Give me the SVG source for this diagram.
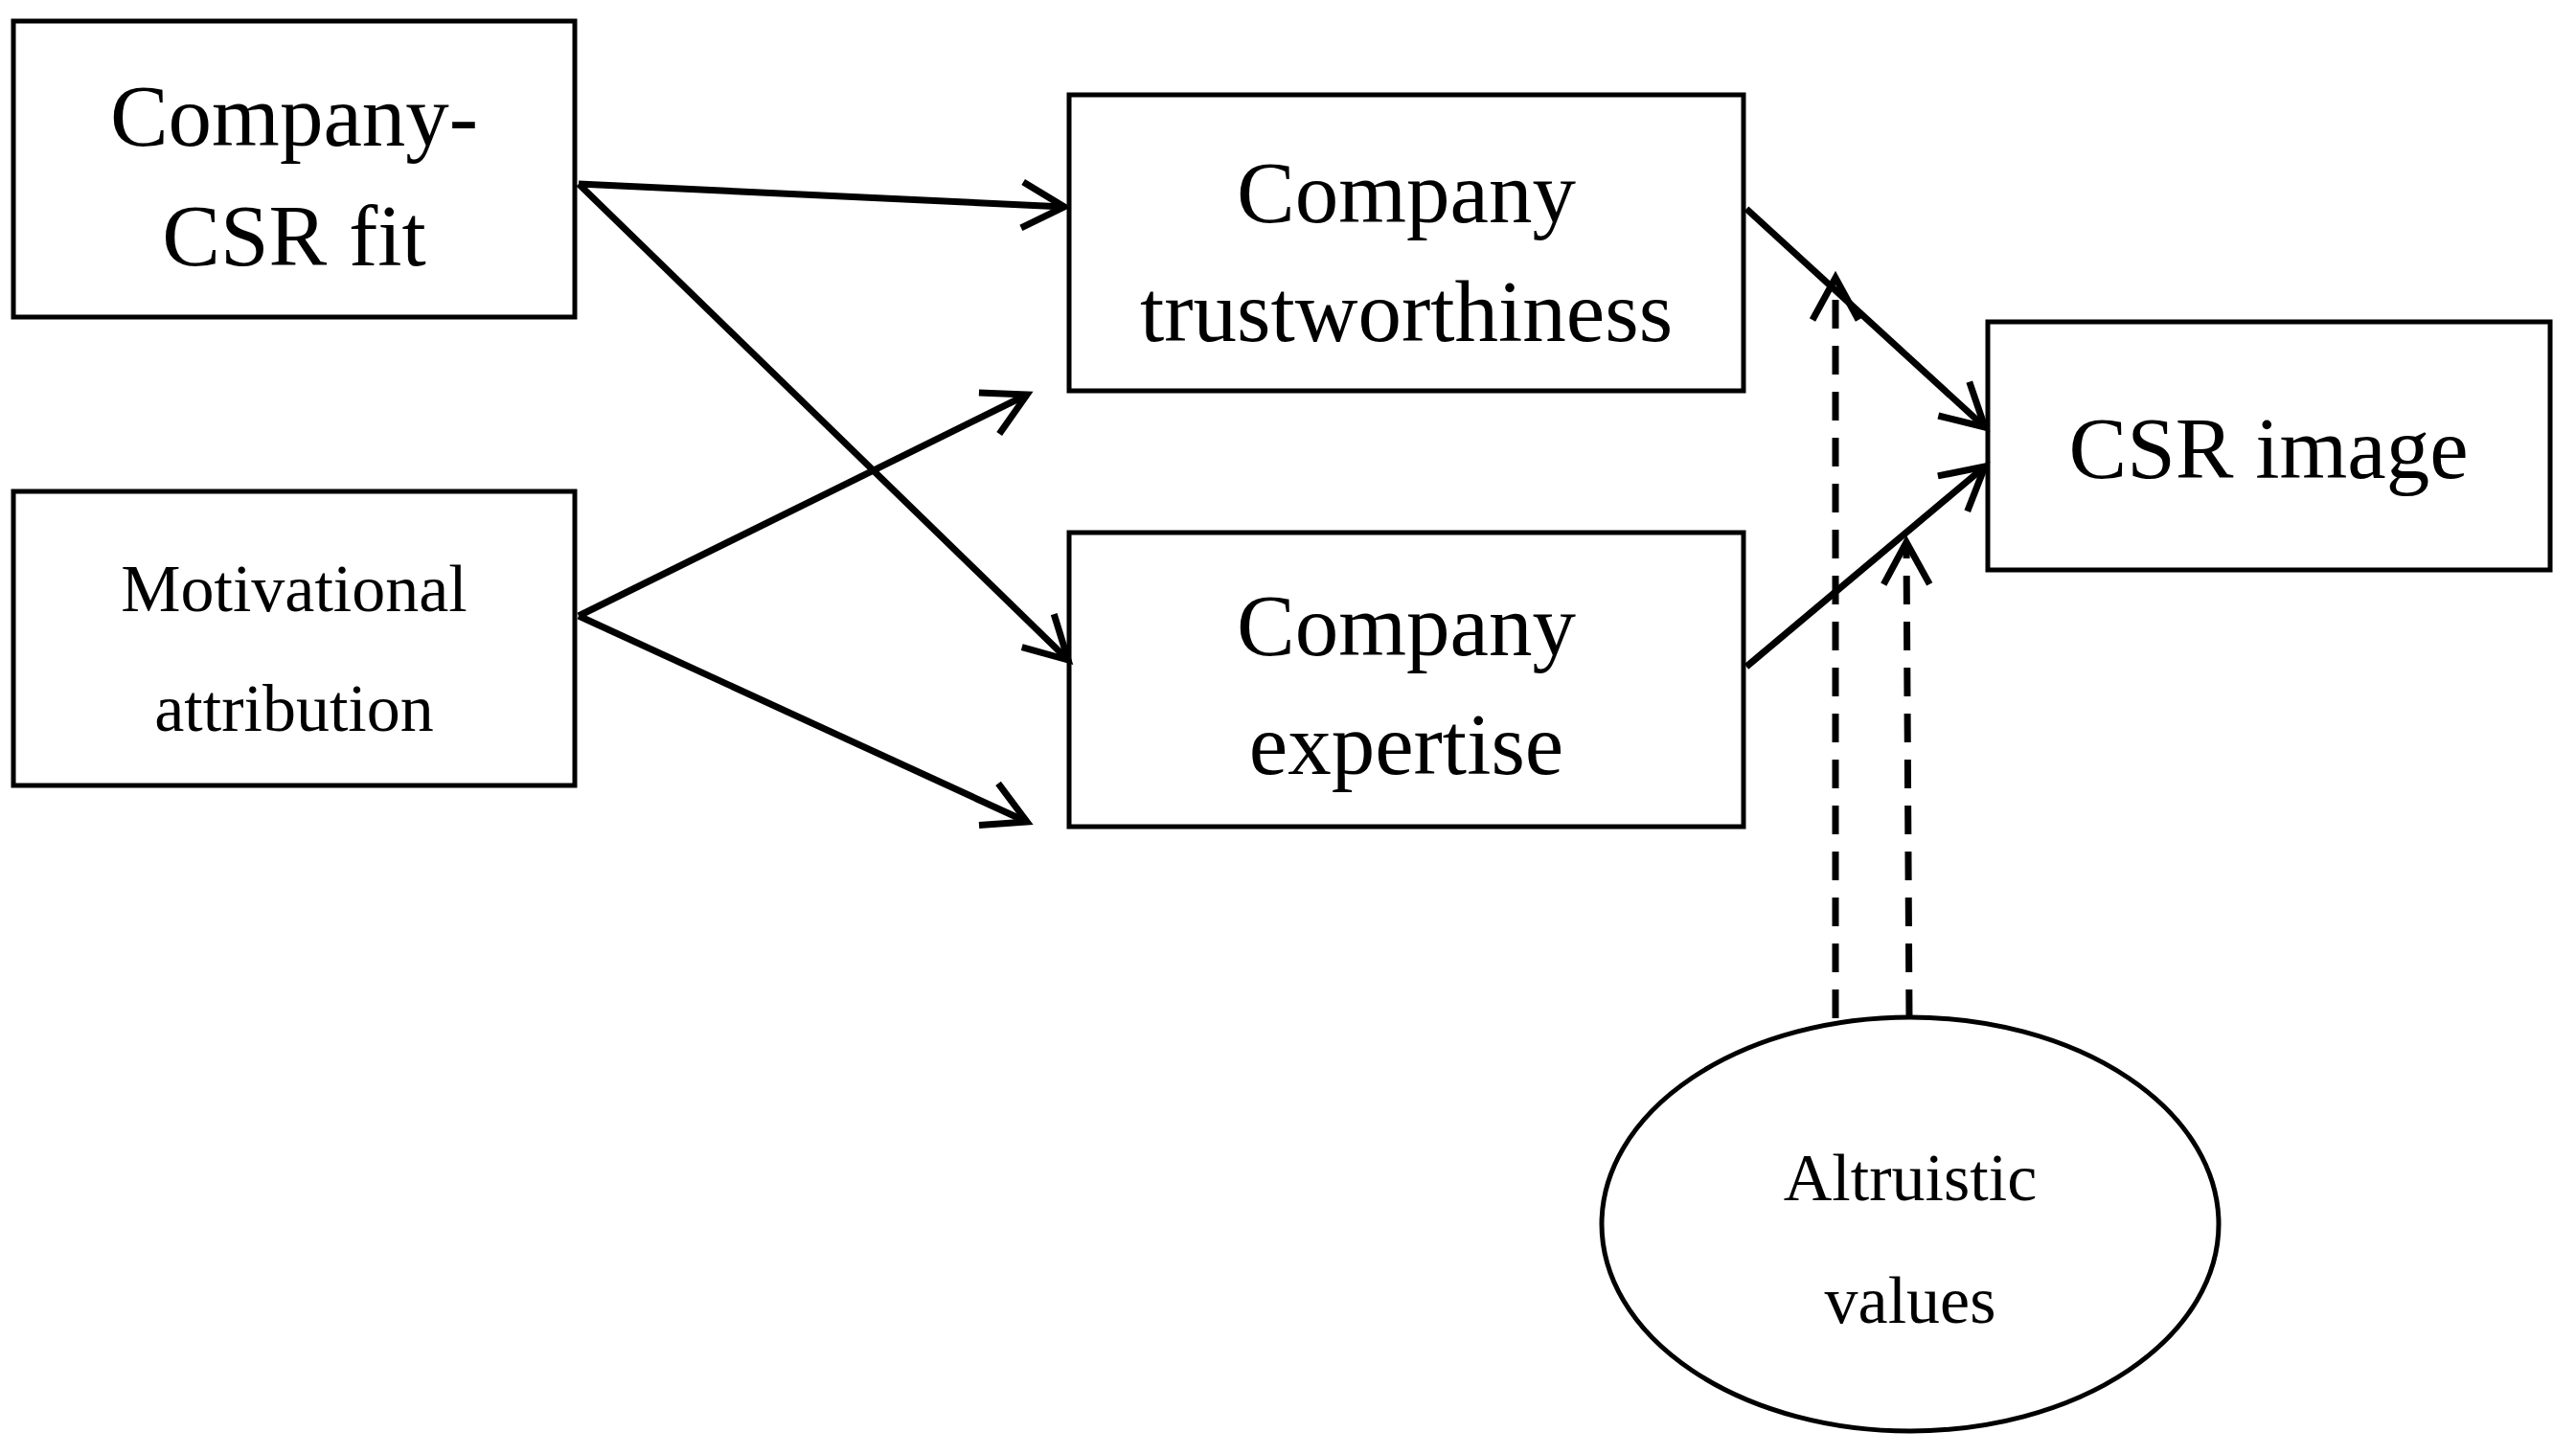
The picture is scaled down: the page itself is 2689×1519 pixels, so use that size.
<svg xmlns="http://www.w3.org/2000/svg" width="2689" height="1519" viewBox="0 0 2689 1519">
<style>
.n{fill:#fff;stroke:#000;stroke-width:5}
.t{font-family:"Liberation Serif",serif;text-anchor:middle;fill:#000}
.c{stroke:#000;stroke-width:7;fill:none}
.d{stroke-dasharray:30,18}
</style>
<defs>
<marker id="a" markerUnits="userSpaceOnUse" viewBox="-50 -30 60 60" markerWidth="60" markerHeight="60" refX="0" refY="0" orient="auto">
<path d="M-44,-24 L0,0 L-44,24" fill="none" stroke="#000" stroke-width="7"/>
</marker>
</defs>
<rect width="2689" height="1519" fill="#fff"/>
<g id="fit"><rect class="n" x="14" y="22" width="586" height="309"/><text class="t" font-size="91" x="307" y="152">Company-</text><text class="t" font-size="91" x="307" y="277">CSR fit</text></g>
<g id="motiv"><rect class="n" x="14" y="513" width="586" height="307"/><text class="t" font-size="70" x="307" y="638">Motivational</text><text class="t" font-size="70" x="307" y="763">attribution</text></g>
<g id="trust"><rect class="n" x="1116" y="99" width="704" height="309"/><text class="t" font-size="91" x="1468" y="232">Company</text><text class="t" font-size="91" x="1468" y="356">trustworthiness</text></g>
<g id="expert"><rect class="n" x="1116" y="556" width="704" height="307"/><text class="t" font-size="91" x="1468" y="684">Company</text><text class="t" font-size="91" x="1468" y="808">expertise</text></g>
<g id="image"><rect class="n" x="2075" y="336" width="587" height="259"/><text class="t" font-size="91" x="2368" y="499">CSR image</text></g>
<g id="altru"><ellipse class="n" cx="1994" cy="1278" rx="322" ry="216"/><text class="t" font-size="70" x="1994" y="1253">Altruistic</text><text class="t" font-size="70" x="1994" y="1381">values</text></g>
<g id="connectors">
<line class="c" x1="604" y1="192" x2="1111" y2="216" marker-end="url(#a)"/>
<line class="c" x1="604" y1="192" x2="1115" y2="689" marker-end="url(#a)"/>
<line class="c" x1="604" y1="643" x2="1072" y2="412" marker-end="url(#a)"/>
<line class="c" x1="604" y1="643" x2="1072" y2="858" marker-end="url(#a)"/>
<line class="c" x1="1823" y1="218" x2="2072" y2="446" marker-end="url(#a)"/>
<line class="c" x1="1823" y1="696" x2="2072" y2="487" marker-end="url(#a)"/>
<line class="c d" x1="1916" y1="1063" x2="1916" y2="290" marker-end="url(#a)"/>
<line class="c d" x1="1993" y1="1063" x2="1990" y2="566" marker-end="url(#a)"/>
</g>
</svg>
